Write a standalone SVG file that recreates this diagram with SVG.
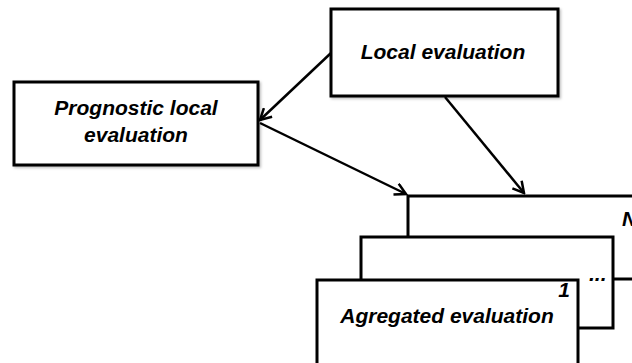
<svg xmlns="http://www.w3.org/2000/svg" width="632" height="363" viewBox="0 0 632 363">
  <defs>
    <style>
      .box { fill: #ffffff; stroke: #000000; stroke-width: 3; }
      .lbl { font-family: "Liberation Sans", Arial, sans-serif; font-weight: bold; font-style: italic; font-size: 21px; fill: #000000; }
      .mid { text-anchor: middle; }
      .conn { fill: none; stroke: #000000; stroke-width: 2.5; }
    </style>
    <marker id="arrow" viewBox="0 0 14 14" refX="12" refY="7" markerWidth="14" markerHeight="14" markerUnits="userSpaceOnUse" orient="auto">
      <path d="M1,1 L12,7 L1,13" fill="none" stroke="#000000" stroke-width="2.5" stroke-linejoin="miter"/>
    </marker>
    <filter id="sh" x="-5%" y="-5%" width="115%" height="120%">
      <feDropShadow dx="1.5" dy="1.5" stdDeviation="0.8" flood-color="#000000" flood-opacity="0.25"/>
    </filter>
  </defs>

  <g id="connectors">
    <line class="conn" x1="331" y1="53" x2="260" y2="120" marker-end="url(#arrow)"/>
    <line class="conn" x1="260" y1="123" x2="406" y2="194" marker-end="url(#arrow)"/>
    <line class="conn" x1="445" y1="97" x2="524" y2="193" marker-end="url(#arrow)"/>
  </g>

  <g id="local-evaluation">
    <rect class="box" x="331" y="9" width="227" height="87" filter="url(#sh)"/>
    <text class="lbl mid" x="443" y="59">Local evaluation</text>
  </g>

  <g id="prognostic-local-evaluation">
    <rect class="box" x="14" y="82" width="244" height="83" filter="url(#sh)"/>
    <text class="lbl mid" x="136" y="115">Prognostic local</text>
    <text class="lbl mid" x="136" y="142">evaluation</text>
  </g>

  <g id="aggregated-N">
    <rect class="box" x="408" y="196" width="260" height="83"/>
    <text class="lbl" x="622" y="226">N</text>
  </g>

  <g id="aggregated-dots">
    <rect class="box" x="361" y="237" width="252" height="91"/>
    <text class="lbl" x="589" y="281">...</text>
  </g>

  <g id="aggregated-1">
    <rect class="box" x="317" y="280" width="261" height="100"/>
    <text class="lbl" x="570" y="297" text-anchor="end">1</text>
    <text class="lbl mid" x="447" y="323">Agregated evaluation</text>
  </g>
</svg>
